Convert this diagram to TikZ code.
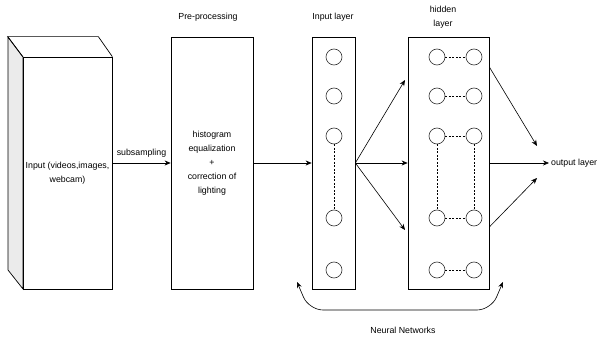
\documentclass[tikz,border=0pt]{standalone}
\usepackage{fontspec}
\setmainfont{Liberation Sans}
\usetikzlibrary{arrows.meta,positioning,calc,shadows}

\begin{document}
\begin{tikzpicture}[
  x=1pt,y=-1pt,>={Stealth[length=6pt,width=5pt]},
  font=\fontsize{8.8}{14}\selectfont,
  block/.style={draw=black,line width=.7pt,fill=white,inner sep=0pt,
    drop shadow={opacity=.2,shadow xshift=1.2pt,shadow yshift=-1.2pt}},
  neuron/.style={draw=black!80,line width=.6pt,circle,minimum size=16pt,inner sep=0pt},
  link/.style={->,black,line width=.6pt},
  dashline/.style={black,line width=.6pt,dash pattern=on 2pt off 1.5pt}
]
\useasboundingbox (0,0) rectangle (598,337);
% input source drawn as a box with depth
\filldraw[fill=black!8,line width=.7pt] (23,57) -- (8,37) -- (8,270) -- (23,289) -- cycle;
\node[block,minimum width=89pt,minimum height=232pt,align=center] (input) at (67.5,173)
  {Input (videos,images,\\webcam)};
\draw[line width=.7pt] (input.north west) -- ++(-15,-20) -- ($(input.north east)+(-14,-20)$) -- (input.north east);
\node[block,minimum width=82pt,minimum height=252pt,align=center] (prep) at (212,163)
  {histogram\\equalization\\+\\correction of\\lighting};
\node[block,minimum width=43pt,minimum height=252pt] (inl) at (333.5,163) {};
\node[block,minimum width=81pt,minimum height=252pt] (hid) at (448.5,163) {};
% neurons, the middle ones are left out
\foreach \row/\ny in {1/57,2/96,3/136,4/218,5/270} {
  \node[neuron] (in\row) at (334,\ny) {};
  \node[neuron] (hl\row) at (437,\ny) {};
  \node[neuron] (hr\row) at (474,\ny) {};
  \draw[dashline] (hl\row) -- (hr\row);
}
\draw[dashline] (in3) -- (in4);
\draw[dashline] (hl3) -- (hl4);
\draw[dashline] (hr3) -- (hr4);
% titles
\node (prepname) at (208,17) {Pre-processing};
\node (inname) at (333,17) {Input layer};
\node[align=center] (hidname) at (443,17) {hidden\\layer};
\node[anchor=west,inner sep=2pt] (out) at (549,163) {output layer};
% connections
\draw[link] (input.east |- prep.west) -- node[above=2pt] (subname) {subsampling} (prep.west);
\draw[link] (prep.east) -- (inl.west);
\coordinate (h1) at (405,80);
\coordinate (h3) at (405,230);
\draw[link] (inl.east) -- (h1);
\draw[link] (inl.east) -- (hid.west);
\draw[link] (inl.east) -- (h3);
\coordinate (o1) at (537,146);
\coordinate (o3) at (537,178);
\draw[link] ([yshift=96pt]hid.east) -- (o1);
\draw[link] (hid.east) -- (out.west);
\draw[link] ([yshift=-64pt]hid.east) -- (o3);
% feedback over the network
\coordinate (nl) at (297,282);
\coordinate (nr) at (503,282);
\draw[<->,black,line width=.6pt,rounded corners=14pt] (nl) -- (309,310) -- (491,310) -- (nr);
\node (nnname) at (403,330) {Neural Networks};
\end{tikzpicture}
\end{document}
